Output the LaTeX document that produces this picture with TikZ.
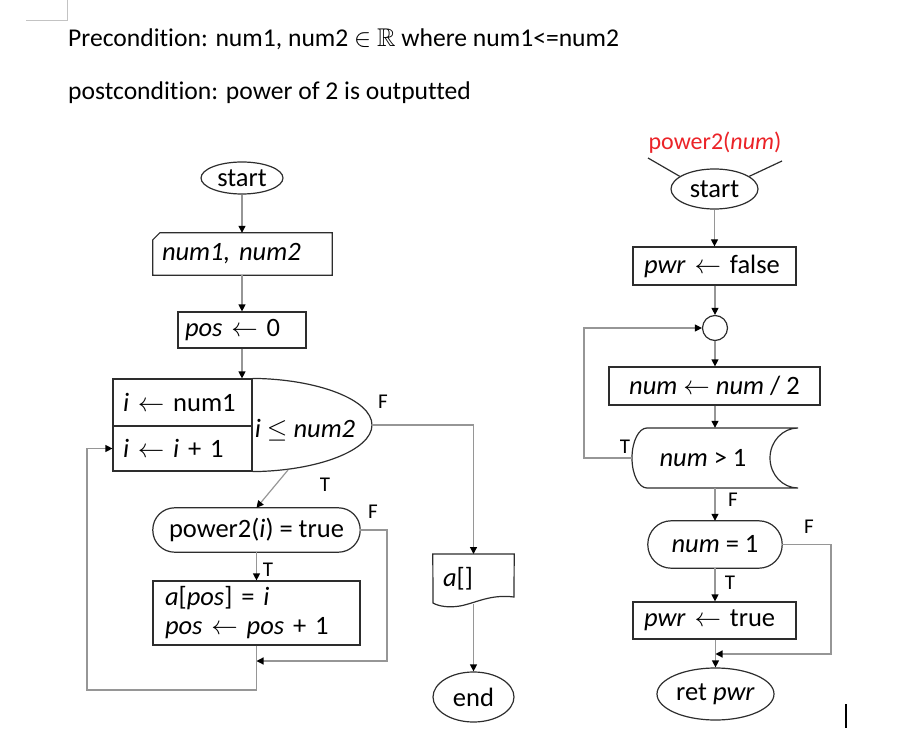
\RequirePackage{fix-cm}
\documentclass[tikz,border=0pt]{standalone}
\usepackage{amssymb}
\usepackage{fontspec}
\setmainfont{Carlito}[Ligatures={NoCommon}]
\usetikzlibrary{arrows.meta,shapes.geometric,calc}
\definecolor{outl}{RGB}{45,45,45}
\definecolor{connc}{RGB}{150,150,150}
\definecolor{redt}{RGB}{235,35,40}
\definecolor{pagec}{RGB}{195,195,195}
\newcommand\mytitlefont{\fontsize{25.6}{30}\selectfont}
\newcommand\mychartfont{\fontsize{26.5}{29}\selectfont}
\newcommand\mylabelfont{\fontsize{21}{24}\selectfont}
\newcommand\myredfont{\fontsize{24}{28}\selectfont}
\tikzset{
  shp/.style={draw=outl, line width=1.2pt, inner sep=0pt, font=\mychartfont},
  txt/.style={inner sep=0pt, font=\mychartfont},
  arr/.style={draw=connc, line width=1.2pt, -{Triangle[length=7pt,width=7pt,color=black]}},
  lbl/.style={inner sep=0pt, font=\mylabelfont},
}
\begin{document}
\begin{tikzpicture}[x=1pt,y=-1pt]
\useasboundingbox (0,0) rectangle (900,754);
% page corner mark and cursor
\draw[pagec, line width=1pt] (67,0) -- (67,21) -- (26,21);
\draw[black, line width=1.3pt] (846,704) -- (846,728);
% title
\node[anchor=base west, inner sep=0pt, font=\mytitlefont] (pre) at (68,47) {Precondition: num1, num2 $\in$ $\mathbb{R}$ where num1<=num2};
\node[anchor=base west, inner sep=0pt, font=\mytitlefont] (post) at (68,100) {postcondition: power of 2 is outputted};

% ---------- left flowchart ----------
\node[shp, ellipse, minimum width=82pt, minimum height=32pt] (ls) at (242,178) {start};
\node[txt, minimum height=42pt, text width=161pt, inner xsep=9pt, align=left] (inp) at (242.5,254) {\textit{num1, num2}};
\draw[shp] ($(inp.north west)+(7,0)$) -- (inp.north east) -- (inp.south east) -- (inp.south west) -- ($(inp.north west)+(0,7)$) -- cycle;
\node[shp, rectangle, minimum height=36pt, text width=114pt, inner xsep=7pt, align=left] (pos) at (242,330) {\textit{pos} $\leftarrow$ 0};
\node[shp, rectangle, minimum height=47pt, text width=119pt, inner xsep=10pt, align=left] (init) at (182.5,402.5) {\textit{i} $\leftarrow$ num1};
\node[shp, rectangle, minimum height=45pt, text width=119pt, inner xsep=10pt, align=left] (incr) at (182.5,448.5) {\textit{i} $\leftarrow$ \textit{i} + 1};
\draw[shp] (init.north east) .. controls (318,379) and (372,400) .. (372,425) coordinate (cF) .. controls (372,450) and (318,471) .. (incr.south east);
\coordinate (cT) at (288,470);
\node[txt] (cond) at (305,430) {\textit{i} $\leq$ \textit{num2}};
\node[txt, minimum width=207pt, minimum height=44pt] (p2) at (256.5,530) {power2(\textit{i}) = true};
\draw[shp, rounded corners=21.9pt] (p2.north west) rectangle (p2.south east);
\node[shp, rectangle, minimum height=64pt, text width=183pt, inner xsep=12pt, align=left] (body) at (256.5,613) {\textit{a}[\textit{pos}] = \textit{i}\\ \textit{pos} $\leftarrow$ \textit{pos} + 1};
\node[txt, minimum width=81pt, minimum height=49pt, text width=61pt, inner xsep=10pt, align=left, anchor=north] (ad) at (473.5,554) {\textit{a}[]};
\draw[shp] (ad.north west) -- (ad.north east) -- (514,597) .. controls (490,594) and (476,603) .. (460,606) .. controls (448,608) and (438,606) .. (433,603) -- cycle;
\coordinate (adb) at (473.5,604);
\node[shp, ellipse, minimum width=81pt, minimum height=50pt] (lend) at (473.5,697) {end};
\coordinate (mrg) at (256.5,661);

\draw[arr] (ls.south) -- (ls.south |- inp.north);
\draw[arr] (inp.south -| ls.south) -- (ls.south |- pos.north);
\draw[arr] (pos.south) -- (pos.south |- init.north);
\draw[arr] (cF) -- (cF -| ad.north) -- (ad.north);
\node[lbl] (lf1) at (383,402) {F};
\draw[arr] (cT) -- (p2.north);
\node[lbl] (lt1) at (325,485) {T};
\draw[arr] (p2.east) -| (387,661) -- (mrg);
\node[lbl] (lf2) at (373,512) {F};
\draw[arr] (p2.south) -- (body.north);
\node[lbl] (lt2) at (268,570) {T};
\draw[arr] (body.south) -- (256.5,690) -| (87,448.5) -- (incr.west);
\draw[arr] (adb) -- (lend.north);

% ---------- right flowchart ----------
\node[inner sep=0pt, font=\myredfont, text=redt] (fn) at (715,143) {power2(\textit{num})};
\node[shp, ellipse, minimum width=87pt, minimum height=40pt] (rs) at (714.5,189) {start};
\coordinate (w1) at (648,158);
\coordinate (w2) at (782,161);
\draw[shp] (w1) -- (rs.160);
\draw[shp] (w2) -- (rs.20);
\node[shp, rectangle, minimum height=38pt, text width=141pt, inner xsep=11pt, align=left] (pf) at (714.5,266) {\textit{pwr} $\leftarrow$ false};
\node[shp, circle, minimum size=25pt] (cc) at (715,328) {};
\node[shp, rectangle, minimum width=211pt, minimum height=38pt] (nd) at (714.5,386) {\textit{num} $\leftarrow$ \textit{num} / 2};
\node[txt, minimum width=142pt, minimum height=60pt] (sd) at (703,458) {\textit{num} > 1};
\draw[shp] (647,428) -- (798,428) .. controls (782.6,428) and (770,441.5) .. (770,458) .. controls (770,474.5) and (782.6,488) .. (798,488) -- (647,488) .. controls (638.7,488) and (632,474.5) .. (632,458) .. controls (632,441.5) and (638.7,428) .. (647,428) -- cycle;
\node[txt, minimum width=134pt, minimum height=47pt] (n1) at (715,544.5) {\textit{num} = 1};
\draw[shp, rounded corners=23.4pt] (n1.north west) rectangle (n1.south east);
\node[shp, rectangle, minimum height=37pt, text width=141pt, inner xsep=11pt, align=left] (pt) at (714.5,620.5) {\textit{pwr} $\leftarrow$ true};
\node[shp, ellipse, minimum width=117pt, minimum height=52pt] (rp) at (715.5,694) {ret \textit{pwr}};
\coordinate (rm) at (715.5,654);

\draw[arr] (rs.south) -- (rs.south |- pf.north);
\draw[arr] (pf.south -| cc) -- (cc.north);
\draw[arr] (cc.south) -- (cc.south |- nd.north);
\draw[arr] (nd.south -| cc) -- (cc |- sd.north);
\draw[arr] (cc |- sd.south) -- (n1.north);
\node[lbl] (lf3) at (733,500) {F};
\draw[arr] (n1.south) -- (n1.south |- pt.north);
\node[lbl] (lt3) at (730,583) {T};
\draw[arr] (pt.south -| rp) -- (rp.north);
\draw[arr] (n1.east) -| (831,654) -- (rm);
\node[lbl] (lf4) at (809,527) {F};
\draw[arr] (sd.west) -- (584,458) |- (cc.west);
\node[lbl] (lt4) at (625,447) {T};
\end{tikzpicture}
\end{document}
